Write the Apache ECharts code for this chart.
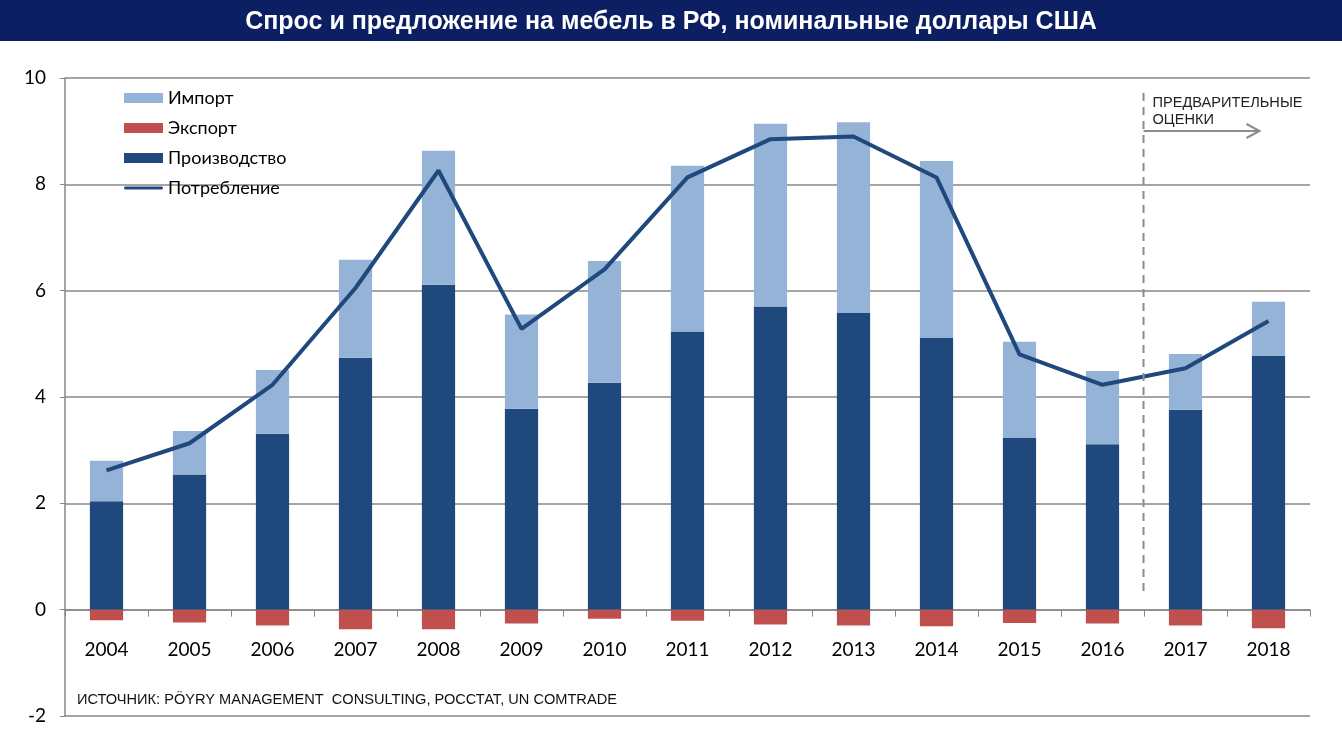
<!DOCTYPE html>
<html>
<head>
<meta charset="utf-8">
<script src="https://cdn.jsdelivr.net/npm/echarts@6/dist/echarts.min.js"></script>
<style>
html,body{margin:0;padding:0;background:#fff;}
#chart{width:1342px;height:734px;}
</style>
</head>
<body>
<div id="chart"></div>
<script>
var years = ['2004','2005','2006','2007','2008','2009','2010','2011','2012','2013','2014','2015','2016','2017','2018'];
var production = [2.04, 2.54, 3.31, 4.74, 6.11, 3.78, 4.27, 5.23, 5.70, 5.58, 5.11, 3.23, 3.11, 3.76, 4.77];
var imports    = [0.76, 0.82, 1.20, 1.84, 2.52, 1.77, 2.29, 3.12, 3.44, 3.59, 3.33, 1.81, 1.38, 1.05, 1.02];
var exports    = [-0.20, -0.24, -0.30, -0.37, -0.37, -0.26, -0.17, -0.21, -0.28, -0.30, -0.31, -0.25, -0.26, -0.30, -0.35];
var consumption = [2.62, 3.13, 4.23, 6.05, 8.26, 5.28, 6.40, 8.13, 8.85, 8.90, 8.13, 4.80, 4.23, 4.54, 5.43];
var yTicks = { min: -2, max: 10, interval: 2 };

var titleText = 'Спрос и предложение на мебель в РФ, номинальные доллары США';
var sourceText = 'ИСТОЧНИК: PÖYRY MANAGEMENT  CONSULTING, РОССТАТ, UN COMTRADE';
var noteLines = ['ПРЕДВАРИТЕЛЬНЫЕ', 'ОЦЕНКИ'];

var FONT = 'Lato, "Open Sans", sans-serif';
var GRID_COLOR = '#878787';

var chart = echarts.init(document.getElementById('chart'), null, {renderer: 'canvas'});

var option = {
  animation: false,
  backgroundColor: '#ffffff',
  grid: { left: 65, right: 32, top: 78, bottom: 18, containLabel: false, outerBoundsMode: 'none' },
  legend: {
    orient: 'vertical',
    left: 124,
    top: 89,
    padding: 0,
    itemWidth: 39,
    itemHeight: 10,
    itemGap: 12,
    textStyle: { fontFamily: FONT, fontSize: 18, color: '#000' },
    data: [
      { name: 'Импорт', icon: 'rect' },
      { name: 'Экспорт', icon: 'rect' },
      { name: 'Производство', icon: 'rect' },
      { name: 'Потребление', icon: 'path://M0,0 M40,10 M1.5,3.5 L38.5,3.5 A1.5,1.5 0 0 1 38.5,6.5 L1.5,6.5 A1.5,1.5 0 0 1 1.5,3.5 Z' }
    ]
  },
  xAxis: {
    type: 'category',
    data: years,
    axisLine: { onZero: false, lineStyle: { color: GRID_COLOR, width: 1.5 } },
    axisTick: { show: true, alignWithLabel: false, length: 7, inside: false, lineStyle: { color: GRID_COLOR } },
    axisLabel: { fontFamily: FONT, fontSize: 19, color: '#000', margin: 31 },
    splitLine: { show: false }
  },
  yAxis: {
    type: 'value',
    min: yTicks.min, max: yTicks.max, interval: yTicks.interval,
    axisLine: { show: true, lineStyle: { color: GRID_COLOR, width: 1.5 } },
    axisTick: { show: true, length: 5, lineStyle: { color: GRID_COLOR } },
    axisLabel: { fontFamily: FONT, fontSize: 19, color: '#000', margin: 19 },
    splitLine: { show: true, lineStyle: { color: GRID_COLOR, width: 1.5 } }
  },
  series: [
    { name: 'Производство', type: 'bar', stack: 'total', barWidth: '40%', data: production,
      itemStyle: { color: '#1F497D' } },
    { name: 'Импорт', type: 'bar', stack: 'total', barWidth: '40%', data: imports,
      itemStyle: { color: '#95B3D7' } },
    { name: 'Экспорт', type: 'bar', stack: 'total', barWidth: '40%', data: exports,
      itemStyle: { color: '#C0504D' } },
    { name: 'Потребление', type: 'line', data: consumption, symbol: 'none', showSymbol: false,
      lineStyle: { color: '#1F497D', width: 4 }, itemStyle: { color: '#1F497D' }, z: 5 }
  ]
};
chart.setOption(option);

// Move the category axis line up to the zero level
var yZero = chart.convertToPixel({yAxisIndex: 0}, 0);
var yBottom = chart.convertToPixel({yAxisIndex: 0}, yTicks.min);
chart.setOption({ xAxis: { offset: -(yBottom - yZero) } });

// Annotations positioned from the axes
var x16 = chart.convertToPixel({xAxisIndex: 0}, '2016');
var x17 = chart.convertToPixel({xAxisIndex: 0}, '2017');
var xd = Math.round((x16 + x17) / 2) - 0.5;
var yTop = 93, yBot = 592, yArrow = 131, xArrowEnd = xd + 116;

chart.setOption({
  graphic: [
    { type: 'rect', left: 0, top: 0, shape: { x: 0, y: 0, width: 1342, height: 41 },
      style: { fill: '#0b1f62' }, z: 10 },
    { type: 'text', x: 671, y: 22, z: 11,
      style: { text: titleText, fill: '#fff', font: 'bold 25px "Liberation Sans", Arial, sans-serif',
               textAlign: 'center', textVerticalAlign: 'middle' } },
    { type: 'line', z: 10, shape: { x1: xd, y1: yTop, x2: xd, y2: yBot },
      style: { stroke: '#8c8c8c', lineWidth: 2, lineDash: [8, 6] } },
    { type: 'polyline', z: 10, shape: { points: [[xd, yArrow], [xArrowEnd, yArrow]] },
      style: { stroke: '#8c8c8c', lineWidth: 2, fill: null } },
    { type: 'polyline', z: 10, shape: { points: [[xArrowEnd - 13, yArrow - 7], [xArrowEnd, yArrow], [xArrowEnd - 13, yArrow + 7]] },
      style: { stroke: '#8c8c8c', lineWidth: 2, fill: null } },
    { type: 'text', x: xd + 9, y: 94, z: 11,
      style: { text: noteLines.join('\n'), fill: '#222', font: '14.6px "Liberation Sans", Arial, sans-serif',
               lineHeight: 17, textAlign: 'left', textVerticalAlign: 'top' } },
    { type: 'text', x: 77, y: 700, z: 11,
      style: { text: sourceText, fill: '#111', font: '14.6px "Liberation Sans", Arial, sans-serif',
               textAlign: 'left', textVerticalAlign: 'middle' } }
  ]
});
</script>
</body>
</html>
